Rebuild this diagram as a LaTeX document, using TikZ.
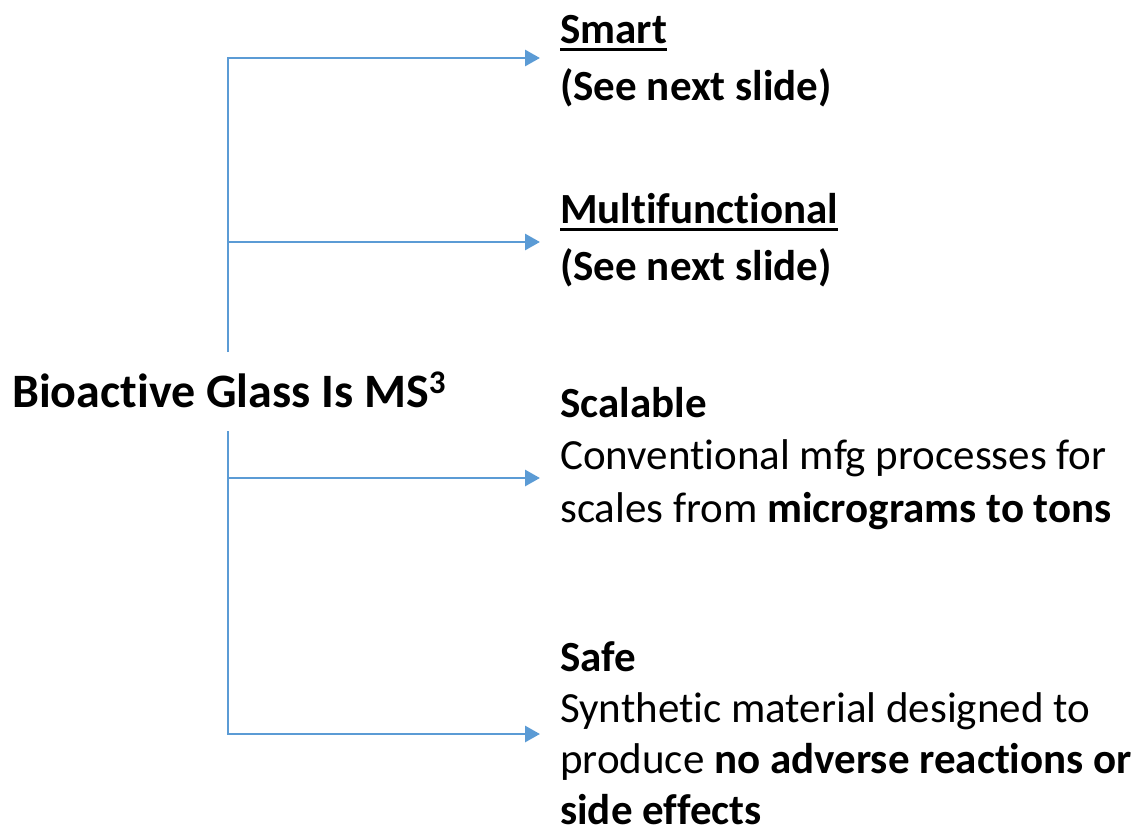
\documentclass[tikz,border=0pt]{standalone}
\usepackage{fontspec}
\setmainfont[Ligatures={NoCommon}]{Carlito}
\usetikzlibrary{arrows.meta}
\definecolor{branch}{HTML}{5B9BD5}
% bold heading with a thick rule under it
\newcommand{\headline}[1]{{\bfseries\setbox0\hbox{#1}\rlap{\rule[-8pt]{\wd0}{3pt}}\box0}}
% raised exponent
\newcommand{\expo}[1]{\raisebox{14pt}{\fontsize{33}{33}\selectfont #1}}

\begin{document}
\begin{tikzpicture}[x=1pt,y=-1pt,
  link/.style={draw=branch, line width=2.9pt},
  arrowed/.style={link, -{Triangle[length=15pt,width=16pt]}},
  label/.style={inner sep=0pt, anchor=base west, align=left,
                font=\fontsize{43}{52}\selectfont},
]
\useasboundingbox (0,0) rectangle (1132,830);

% central statement
\node[label, font=\fontsize{48}{52}\selectfont\bfseries] (hub) at (12,407)
  {Bioactive Glass Is MS\expo{3}};

% the four properties (anchored at the baseline of their last line)
\node[label, font=\fontsize{43}{57}\selectfont] (smart) at (560,100)
  {\headline{Smart}\\\textbf{(See next slide)}};
\node[label, font=\fontsize{43}{57}\selectfont] (multi) at (560,280)
  {\headline{Multifunctional}\\\textbf{(See next slide)}};
\node[label, font=\fontsize{43}{52.5}\selectfont] (scal) at (560,522)
  {\textbf{Scalable}\\Conventional mfg processes for\\scales from \textbf{micrograms to tons}};
\node[label, font=\fontsize{43}{51}\selectfont] (safe) at (560,824)
  {\textbf{Safe}\\Synthetic material designed to\\produce \textbf{no adverse reactions or}\\\textbf{side effects}};

% trunk ends and arrow tips
\coordinate (upper) at (228,352);
\coordinate (lower) at (228,431);
\coordinate (tipSmart) at (540,58);
\coordinate (tipMulti) at (540,242);
\coordinate (tipScal) at (540,478);
\coordinate (tipSafe) at (540,734);

\draw[arrowed] (upper) |- (tipSmart);
\draw[arrowed] (upper |- tipMulti) -- (tipMulti);
\draw[arrowed] (lower) |- (tipSafe);
\draw[arrowed] (lower |- tipScal) -- (tipScal);
\end{tikzpicture}
\end{document}
